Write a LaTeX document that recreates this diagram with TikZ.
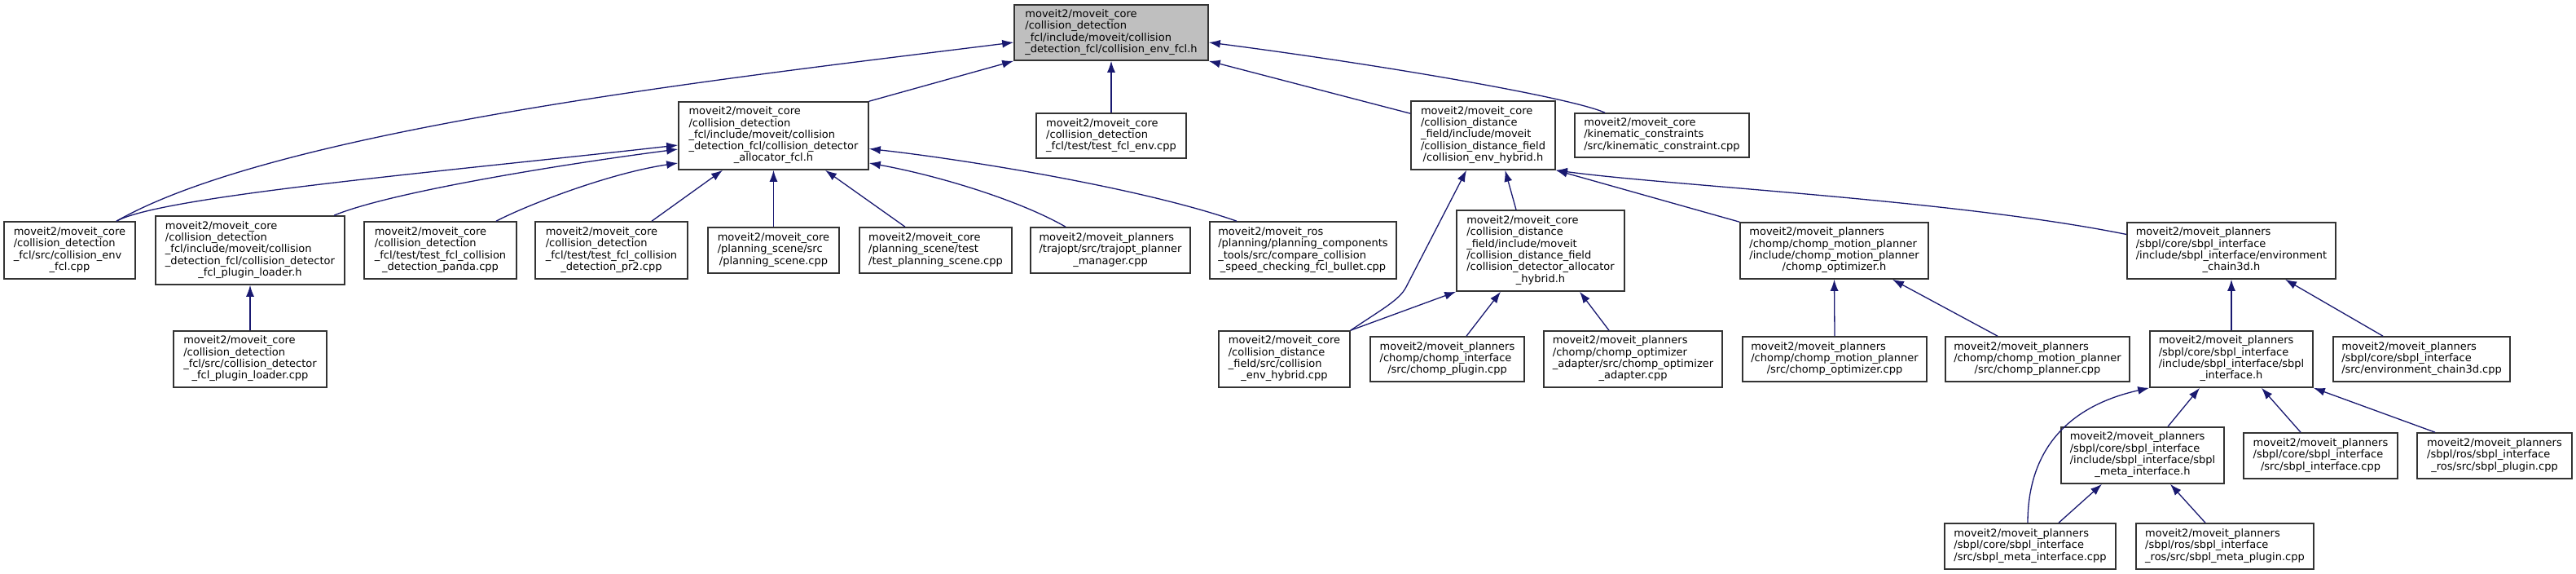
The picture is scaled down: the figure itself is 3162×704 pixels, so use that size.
\documentclass[tikz,border=0pt]{standalone}
\usepackage{fontspec}
\setmainfont{DejaVu Sans}
\usetikzlibrary{arrows.meta}
\definecolor{edgeblue}{RGB}{25,25,112}
\definecolor{rootgrey}{RGB}{191,191,191}
\newcommand{\dxfont}{\fontsize{13}{14.3}\selectfont}
\newcommand{\fpath}[2]{\begin{tabular}{@{}l@{}}#1\\\multicolumn{1}{@{}c@{}}{#2}\end{tabular}}

\begin{document}
\begin{tikzpicture}[x=1pt, y=-1pt,
    every node/.style={font=\dxfont},
    filebox/.style={rectangle, draw=black!80, line width=1.6pt, fill=white, inner sep=0pt},
    curbox/.style={filebox, fill=rootgrey},
    sz/.style 2 args={minimum width=#1pt, minimum height=#2pt},
    dep/.style={-{Latex[length=14pt, width=10pt]}, draw=edgeblue, line width=1.3pt}
]
\useasboundingbox (0,0) rectangle (3162,704);

% row 1
\node[curbox, sz={238}{68}] (root) at (1364,40) {\fpath{moveit2/moveit\_core\\/collision\_detection\\\_fcl/include/moveit/collision}{\_detection\_fcl/collision\_env\_fcl.h}};

% row 2
\node[filebox, sz={233}{83}] (allocfcl) at (949.5,166.5) {\fpath{moveit2/moveit\_core\\/collision\_detection\\\_fcl/include/moveit/collision\\\_detection\_fcl/collision\_detector}{\_allocator\_fcl.h}};
\node[filebox, sz={184}{55}] (testenv) at (1364,166.5) {\fpath{moveit2/moveit\_core\\/collision\_detection}{\_fcl/test/test\_fcl\_env.cpp}};
\node[filebox, sz={177}{84}] (envhybh) at (1820.5,166) {\fpath{moveit2/moveit\_core\\/collision\_distance\\\_field/include/moveit\\/collision\_distance\_field}{/collision\_env\_hybrid.h}};
\node[filebox, sz={214}{54}] (kin) at (2040,166) {\fpath{moveit2/moveit\_core\\/kinematic\_constraints}{/src/kinematic\_constraint.cpp}};

% row 3
\node[filebox, sz={161}{70}] (envfcl) at (85.5,307) {\fpath{moveit2/moveit\_core\\/collision\_detection\\\_fcl/src/collision\_env}{\_fcl.cpp}};
\node[filebox, sz={232}{84}] (loaderh) at (307,307) {\fpath{moveit2/moveit\_core\\/collision\_detection\\\_fcl/include/moveit/collision\\\_detection\_fcl/collision\_detector}{\_fcl\_plugin\_loader.h}};
\node[filebox, sz={187}{70}] (panda) at (540.5,307) {\fpath{moveit2/moveit\_core\\/collision\_detection\\\_fcl/test/test\_fcl\_collision}{\_detection\_panda.cpp}};
\node[filebox, sz={187}{70}] (pr2) at (750.5,307) {\fpath{moveit2/moveit\_core\\/collision\_detection\\\_fcl/test/test\_fcl\_collision}{\_detection\_pr2.cpp}};
\node[filebox, sz={161}{56}] (ps) at (949.5,307) {\fpath{moveit2/moveit\_core\\/planning\_scene/src}{/planning\_scene.cpp}};
\node[filebox, sz={187}{56}] (testps) at (1148.5,307) {\fpath{moveit2/moveit\_core\\/planning\_scene/test}{/test\_planning\_scene.cpp}};
\node[filebox, sz={196}{56}] (trajopt) at (1363,307) {\fpath{moveit2/moveit\_planners\\/trajopt/src/trajopt\_planner}{\_manager.cpp}};
\node[filebox, sz={229}{70}] (compare) at (1599.5,307) {\fpath{moveit2/moveit\_ros\\/planning/planning\_components\\\_tools/src/compare\_collision}{\_speed\_checking\_fcl\_bullet.cpp}};
\node[filebox, sz={206}{99}] (allochyb) at (1891,307.5) {\fpath{moveit2/moveit\_core\\/collision\_distance\\\_field/include/moveit\\/collision\_distance\_field\\/collision\_detector\_allocator}{\_hybrid.h}};
\node[filebox, sz={231}{69}] (chompopth) at (2251.5,307.5) {\fpath{moveit2/moveit\_planners\\/chomp/chomp\_motion\_planner\\/include/chomp\_motion\_planner}{/chomp\_optimizer.h}};
\node[filebox, sz={256}{69}] (chain3dh) at (2739,307.5) {\fpath{moveit2/moveit\_planners\\/sbpl/core/sbpl\_interface\\/include/sbpl\_interface/environment}{\_chain3d.h}};

% row 4
\node[filebox, sz={188}{69}] (loadercpp) at (307,440.5) {\fpath{moveit2/moveit\_core\\/collision\_detection\\\_fcl/src/collision\_detector}{\_fcl\_plugin\_loader.cpp}};
\node[filebox, sz={161}{69}] (envhybcpp) at (1576.5,440.5) {\fpath{moveit2/moveit\_core\\/collision\_distance\\\_field/src/collision}{\_env\_hybrid.cpp}};
\node[filebox, sz={189}{55}] (chompplugin) at (1776.5,440.5) {\fpath{moveit2/moveit\_planners\\/chomp/chomp\_interface}{/src/chomp\_plugin.cpp}};
\node[filebox, sz={219}{69}] (chompadapter) at (2004.5,440.5) {\fpath{moveit2/moveit\_planners\\/chomp/chomp\_optimizer\\\_adapter/src/chomp\_optimizer}{\_adapter.cpp}};
\node[filebox, sz={226}{55}] (chompoptcpp) at (2252,440.5) {\fpath{moveit2/moveit\_planners\\/chomp/chomp\_motion\_planner}{/src/chomp\_optimizer.cpp}};
\node[filebox, sz={226}{55}] (chompplanner) at (2501,440.5) {\fpath{moveit2/moveit\_planners\\/chomp/chomp\_motion\_planner}{/src/chomp\_planner.cpp}};
\node[filebox, sz={200}{69}] (sbplifh) at (2739,440.5) {\fpath{moveit2/moveit\_planners\\/sbpl/core/sbpl\_interface\\/include/sbpl\_interface/sbpl}{\_interface.h}};
\node[filebox, sz={217}{55}] (chain3dcpp) at (2972.5,440.5) {\fpath{moveit2/moveit\_planners\\/sbpl/core/sbpl\_interface}{/src/environment\_chain3d.cpp}};

% row 5 and 6
\node[filebox, sz={200}{69}] (metaifh) at (2630,558.5) {\fpath{moveit2/moveit\_planners\\/sbpl/core/sbpl\_interface\\/include/sbpl\_interface/sbpl}{\_meta\_interface.h}};
\node[filebox, sz={189}{56}] (sbplifcpp) at (2848.5,559) {\fpath{moveit2/moveit\_planners\\/sbpl/core/sbpl\_interface}{/src/sbpl\_interface.cpp}};
\node[filebox, sz={190}{56}] (sbplplugin) at (3062,559) {\fpath{moveit2/moveit\_planners\\/sbpl/ros/sbpl\_interface}{\_ros/src/sbpl\_plugin.cpp}};
\node[filebox, sz={210}{56}] (metaifcpp) at (2492,670) {\fpath{moveit2/moveit\_planners\\/sbpl/core/sbpl\_interface}{/src/sbpl\_meta\_interface.cpp}};
\node[filebox, sz={218}{56}] (metaplugin) at (2731,670) {\fpath{moveit2/moveit\_planners\\/sbpl/ros/sbpl\_interface}{\_ros/src/sbpl\_meta\_plugin.cpp}};

% includes of the current file
\draw[dep] ([xshift=57.5pt]envfcl.north) .. controls (343,157) and (900,95) .. ([yshift=-12pt]root.west);
\draw[dep] (allocfcl.north east) -- (root.south west);
\draw[dep] (testenv.north) -- (root.south);
\draw[dep] ([yshift=-16pt]envhybh.north west) -- (root.south east);
\draw[dep] ([xshift=-70pt]kin.north) .. controls (1930,120) and (1700,80) .. ([yshift=-12pt]root.east);

% allocator fcl
\draw[dep] ([xshift=57.5pt]envfcl.north) .. controls (200,240) and (550,210) .. ([yshift=-11.5pt]allocfcl.west);
\draw[dep] ([xshift=103pt]loaderh.north) .. controls (480,235) and (700,200) .. ([yshift=-16.5pt]allocfcl.west);
\draw[dep] ([xshift=68.5pt]panda.north) .. controls (650,250) and (750,212) .. ([yshift=-33.5pt]allocfcl.west);
\draw[dep] ([xshift=49.5pt]pr2.north) -- ([xshift=-62.5pt]allocfcl.south);
\draw[dep] (ps.north) -- (allocfcl.south);
\draw[dep] ([xshift=-37.5pt]testps.north) -- ([xshift=63.5pt]allocfcl.south);
\draw[dep] ([xshift=-55pt]trajopt.north) .. controls (1250,245) and (1150,215) .. ([yshift=-33.5pt]allocfcl.east);
\draw[dep] ([xshift=-81.5pt]compare.north) .. controls (1400,230) and (1180,195) .. ([yshift=-16pt]allocfcl.east);
\draw[dep] (loadercpp.north) -- (loaderh.south);

% hybrid
\draw[dep] (envhybcpp.north east) .. controls (1695,380) and (1718,368) .. (1726,352) -- ([xshift=-20.5pt]envhybh.south);
\draw[dep] ([xshift=-30pt]allochyb.north) -- ([xshift=27pt]envhybh.south);
\draw[dep] (chompopth.north west) -- (envhybh.south east);
\draw[dep] ([yshift=20pt]chain3dh.west) .. controls (2400,245) and (2050,228) .. (envhybh.south east);
\draw[dep] (envhybcpp.north east) -- (allochyb.south west);
\draw[dep] ([xshift=23.5pt]chompplugin.north) -- ([xshift=-49pt]allochyb.south);
\draw[dep] ([xshift=-29.5pt]chompadapter.north) -- ([xshift=48pt]allochyb.south);

% chomp
\draw[dep] (chompoptcpp.north) -- (chompopth.south);
\draw[dep] ([xshift=-49pt]chompplanner.north) -- ([xshift=71.5pt]chompopth.south);

% sbpl
\draw[dep] (sbplifh.north) -- (chain3dh.south);
\draw[dep] ([xshift=-47.5pt]chain3dcpp.north) -- ([xshift=66pt]chain3dh.south);
\draw[dep] ([xshift=-3pt]metaifcpp.north) .. controls (2489,560) and (2530,500) .. (sbplifh.south west);
\draw[dep] ([xshift=31pt]metaifh.north) -- ([xshift=-39pt]sbplifh.south);
\draw[dep] ([xshift=-24.5pt]sbplifcpp.north) -- ([xshift=37pt]sbplifh.south);
\draw[dep] ([xshift=-73pt]sbplplugin.north) -- (sbplifh.south east);
\draw[dep] ([xshift=35pt]metaifcpp.north) -- ([xshift=-50pt]metaifh.south);
\draw[dep] ([xshift=-24pt]metaplugin.north) -- ([xshift=34pt]metaifh.south);
\end{tikzpicture}
\end{document}
